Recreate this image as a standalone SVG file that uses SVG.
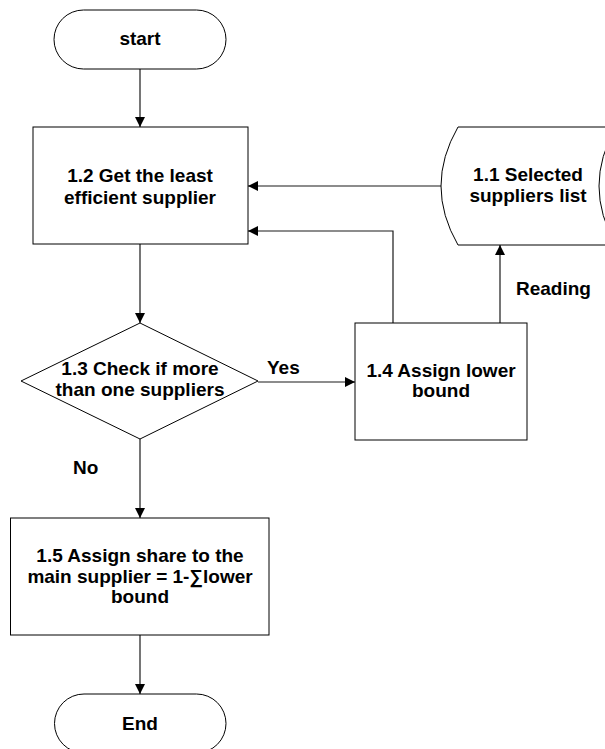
<svg xmlns="http://www.w3.org/2000/svg" width="605" height="749" viewBox="0 0 605 749">
<style>
.s{fill:#fff;stroke:#000;stroke-width:1}
.t{font-family:"Liberation Sans",Arial,sans-serif;font-weight:bold;font-size:19px;fill:#000;text-anchor:middle}
.l{font-family:"Liberation Sans",Arial,sans-serif;font-weight:bold;font-size:19px;fill:#000}
.c{fill:none;stroke:#1a1a1a;stroke-width:1.2}
</style>
<defs>
<marker id="a" viewBox="0 0 10 10" refX="10" refY="5" markerWidth="10" markerHeight="10" markerUnits="userSpaceOnUse" orient="auto">
<path d="M0,0 L10,5 L0,10 Z" fill="#000"/>
</marker>
</defs>
<rect width="605" height="749" fill="#fff"/>
<g id="connectors">
<line class="c" x1="140" y1="69" x2="140" y2="127" marker-end="url(#a)"/>
<line class="c" x1="140" y1="244" x2="140" y2="323" marker-end="url(#a)"/>
<line class="c" x1="258" y1="382" x2="355" y2="382" marker-end="url(#a)"/>
<line class="c" x1="441" y1="186" x2="248" y2="186" marker-end="url(#a)"/>
<polyline class="c" points="393,323 393,231 248,231" marker-end="url(#a)"/>
<line class="c" x1="500" y1="323" x2="500" y2="245" marker-end="url(#a)"/>
<line class="c" x1="140" y1="439" x2="140" y2="518" marker-end="url(#a)"/>
<line class="c" x1="140" y1="635" x2="140" y2="694" marker-end="url(#a)"/>
<text class="l" x="267" y="374">Yes</text>
<text class="l" x="516" y="295">Reading</text>
<text class="l" x="73" y="474">No</text>
</g>
<g id="start">
<rect class="s" x="54" y="10" width="172" height="59" rx="29.5" ry="29.5"/>
<text class="t" x="140" y="45">start</text>
</g>
<g id="n12">
<rect class="s" x="33" y="127" width="215" height="117"/>
<text class="t" x="140" y="182">1.2 Get the least</text>
<text class="t" x="140" y="204">efficient supplier</text>
</g>
<g id="n11">
<path class="s" d="M458,127 L616,127 Q582,186 616,245 L458,245 Q424,186 458,127 Z"/>
<text class="t" x="528" y="181">1.1 Selected</text>
<text class="t" x="528" y="202">suppliers list</text>
</g>
<g id="n13">
<polygon class="s" points="140,323 258,381 140,439 21,381"/>
<text class="t" x="140" y="375">1.3 Check if more</text>
<text class="t" x="140" y="396">than one suppliers</text>
</g>
<g id="n14">
<rect class="s" x="355" y="323" width="172" height="117"/>
<text class="t" x="441" y="377">1.4 Assign lower</text>
<text class="t" x="441" y="397">bound</text>
</g>
<g id="n15">
<rect class="s" x="10.5" y="518" width="258.5" height="117"/>
<text class="t" x="140" y="562">1.5 Assign share to the</text>
<text class="t" x="140" y="583">main supplier = 1-∑lower</text>
<text class="t" x="140" y="603">bound</text>
</g>
<g id="end">
<rect class="s" x="54.5" y="694" width="171.5" height="59" rx="29.5" ry="29.5"/>
<text class="t" x="140" y="730">End</text>
</g>
</svg>
